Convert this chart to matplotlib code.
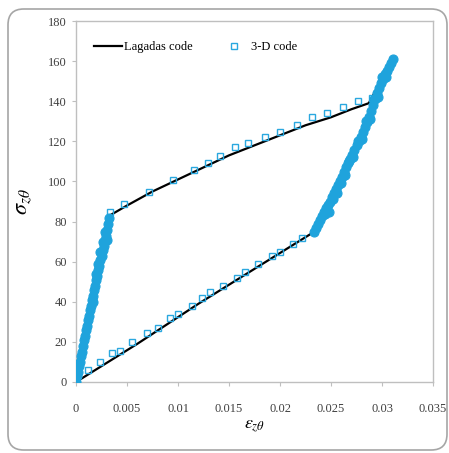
import matplotlib
matplotlib.use("Agg")
import matplotlib.pyplot as plt
from matplotlib.patches import FancyBboxPatch

plt.rcParams['font.family'] = ['Liberation Serif', 'DejaVu Serif']
plt.rcParams['mathtext.fontset'] = 'stix'

# Lagadas code: loading / unloading loop (strain, stress)
lag_strain = [0.0, 0.0033, 0.005, 0.0075, 0.010, 0.0125, 0.015, 0.0175, 0.020,
              0.0225, 0.025, 0.0270, 0.0287, 0.0300, 0.0310,
              0.0296, 0.0280, 0.0265, 0.0250, 0.0237, 0.0180, 0.0120, 0.0060, 0.0]
lag_stress = [0, 83, 88, 95, 101, 107, 113, 118, 123,
              128, 132, 136, 139, 151, 160,
              146, 121, 106, 91, 76, 58, 39, 19, 0]

# 3-D code: sparse points on the two slow branches
upper_strain = [0.0033, 0.0047, 0.0072, 0.0095, 0.0116, 0.0129, 0.0141, 0.0156,
                0.0169, 0.0185, 0.0200, 0.0217, 0.0231, 0.0246, 0.0262, 0.0276, 0.0290]
upper_stress = [85, 89, 94.5, 100.5, 105.5, 109, 112.5, 117,
                119, 122, 124.5, 128, 132, 134, 137, 140, 141.5]
lower_strain = [0.0012, 0.0024, 0.0035, 0.0043, 0.0055, 0.0070, 0.0080, 0.0092,
                0.0100, 0.0114, 0.0124, 0.0131, 0.0144, 0.0158, 0.0166, 0.0178,
                0.0192, 0.0200, 0.0213, 0.0222]
lower_stress = [6, 10, 14.5, 15.5, 20, 24.5, 27, 32,
                34, 38, 42, 45, 48, 52, 55, 59,
                63, 65, 69, 72]

# 3-D code: dense points on the steep branches
left_strain = [0.0000, 0.0001, 0.0002, 0.0003, 0.0004, 0.0005, 0.0006, 0.0007,
               0.0008, 0.0009, 0.0010, 0.0011, 0.0012, 0.0013, 0.0014, 0.0015,
               0.0016, 0.0017, 0.0018, 0.0019, 0.0020, 0.0021, 0.0022, 0.0023,
               0.0024, 0.0025, 0.0026, 0.0027, 0.0028, 0.0029, 0.0030, 0.0031,
               0.0032, 0.0020, 0.0022, 0.0024, 0.0026, 0.0028, 0.0017, 0.0030]
left_stress = [0, 3, 5, 8, 10, 13, 15, 18,
               21, 23, 26, 28, 31, 33, 36, 38,
               41, 43, 46, 48, 51, 53, 56, 58,
               61, 63, 66, 68, 71, 73, 76, 79,
               82, 54, 59, 65, 70, 75, 40, 71]
right_strain = [0.0233, 0.0235, 0.0237, 0.0239, 0.0241, 0.0243, 0.0245, 0.0247,
                0.0249, 0.0251, 0.0253, 0.0255, 0.0257, 0.0259, 0.0261, 0.0263,
                0.0265, 0.0267, 0.0269, 0.0271, 0.0273, 0.0275, 0.0277, 0.0279,
                0.0281, 0.0283, 0.0285, 0.0287, 0.0289, 0.0291, 0.0293, 0.0295,
                0.0297, 0.0299, 0.0301, 0.0303, 0.0305, 0.0307, 0.0309, 0.0311,
                0.0244, 0.0252, 0.0260, 0.0268, 0.0276, 0.0284, 0.0292, 0.0300,
                0.0248, 0.0256, 0.0264, 0.0272, 0.0280, 0.0288, 0.0296, 0.0304]
right_stress = [75, 77, 79, 81, 83, 85, 87, 88.5,
                90, 92, 94, 96, 98, 100, 102, 104.5,
                107, 109, 111, 113, 115.5, 118, 120, 122,
                124.5, 127, 129.5, 132, 135, 138, 141, 144,
                146.5, 149, 151, 153.5, 155, 157, 159, 161,
                84, 91, 99, 110, 120, 130, 141, 152,
                85, 94, 103, 112, 121, 131, 142, 152]

fig = plt.figure(figsize=(4.49, 4.53), dpi=100)
fig.patches.append(FancyBboxPatch((8 / 449, 3 / 453), 439 / 449, 441 / 453,
                                  boxstyle="round,pad=0,rounding_size=0.035",
                                  transform=fig.transFigure, fill=False,
                                  edgecolor='#a6a6a6', linewidth=1.2))

ax = fig.add_axes([76 / 449, 71 / 453, 357 / 449, 361 / 453])

blue = '#2aa8df'
mk = dict(linestyle='none', marker='s', markersize=4.0, markerfacecolor='none',
          markeredgecolor=blue, markeredgewidth=1.0)
# overlapping points on the steep branches merge into a solid band
band = dict(linestyle='none', marker='o', markersize=6.5, markerfacecolor='#1fa3dc',
            markeredgecolor='#1fa3dc', markeredgewidth=0.8)

ax.plot(lag_strain, lag_stress, color='black', linewidth=1.6, label='Lagadas code', zorder=2)
ax.plot(upper_strain, upper_stress, label='3-D code', zorder=3, **mk)
ax.plot(lower_strain, lower_stress, zorder=3, **mk)
ax.plot(left_strain, left_stress, zorder=3, **band)
ax.plot(right_strain, right_stress, zorder=3, **band)

ax.set_xlim(0, 0.035)
ax.set_ylim(0, 180)
ax.set_xticks([0, 0.005, 0.01, 0.015, 0.02, 0.025, 0.03, 0.035])
ax.set_xticklabels(['0', '0.005', '0.01', '0.015', '0.02', '0.025', '0.03', '0.035'])
ax.set_yticks(range(0, 181, 20))

for s in ax.spines.values():
    s.set_color('#bfbfbf')
    s.set_linewidth(1.0)
ax.tick_params(colors='#bfbfbf', labelcolor='#404040', labelsize=9, length=3, width=0.8)
ax.tick_params(axis='x', pad=12)

ax.set_ylabel(r'$\sigma_{z\theta}$', fontsize=16, labelpad=10)
ax.set_xlabel(r'$\varepsilon_{z\theta}$', fontsize=13, labelpad=2)

ax.legend(loc='upper left', bbox_to_anchor=(0.02, 0.975), ncol=2, frameon=False,
          fontsize=9, handlelength=2.2, handletextpad=0.2, columnspacing=2.2)

fig.savefig('out.png', dpi=100)
